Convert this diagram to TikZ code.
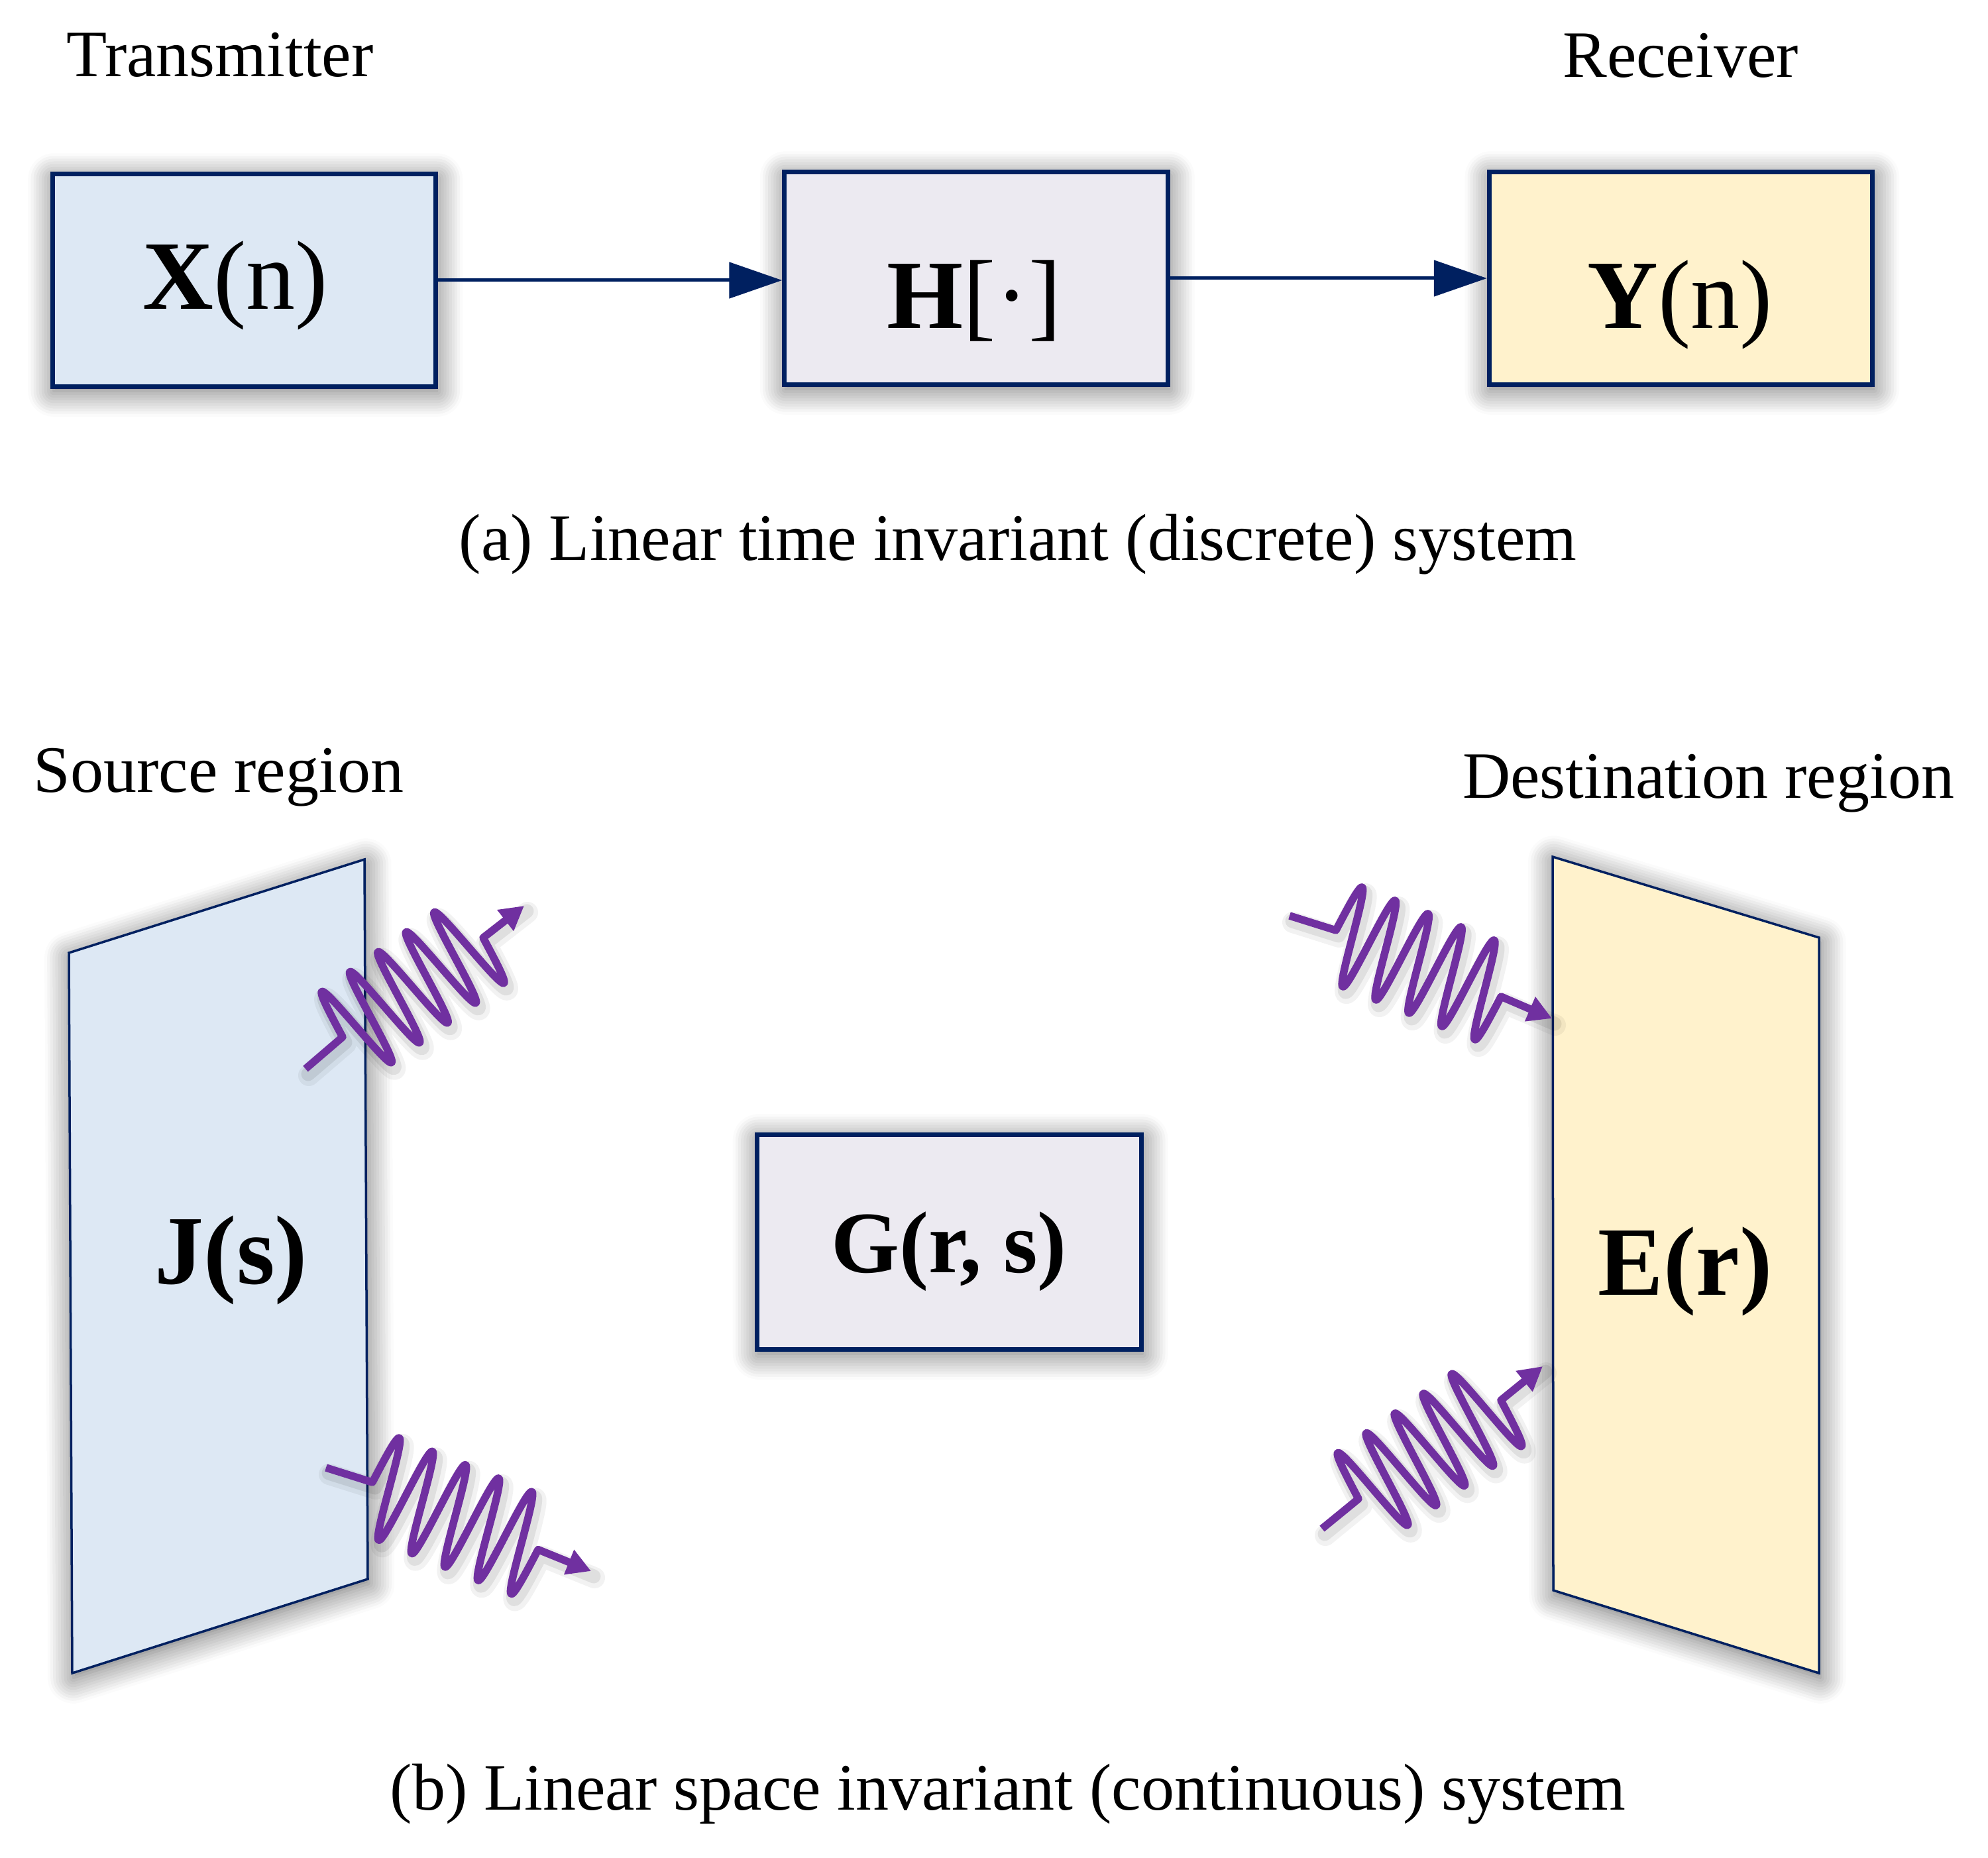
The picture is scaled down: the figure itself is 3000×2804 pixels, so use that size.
\documentclass[tikz,border=0pt]{standalone}
\usepackage{fontspec}
\setmainfont{Liberation Serif}
\usetikzlibrary{arrows.meta,shadows.blur}
\definecolor{navy}{HTML}{002060}
\definecolor{fillblue}{HTML}{DDE8F4}
\definecolor{fillgray}{HTML}{ECEAF1}
\definecolor{fillgold}{HTML}{FFF2CC}
\definecolor{wavepurple}{HTML}{7030A0}
\newcommand\lbfont{\fontsize{28.45pt}{34pt}\selectfont}
\newcommand\boxfont{\fontsize{42.1pt}{50pt}\selectfont}
\newcommand\midfont{\fontsize{37.6pt}{45pt}\selectfont}
\tikzset{
  softshadow/.style={blur shadow={shadow xshift=0.5pt, shadow yshift=-2pt, shadow blur radius=11pt, shadow blur steps=10, shadow opacity=60}},
  blockbox/.style={draw=navy, line width=0.07cm, inner sep=0pt, minimum width=5.78cm, minimum height=3.2cm, softshadow},
  panelstyle/.style={draw=navy, line width=0.035cm, line join=miter, softshadow},
  flow/.style={draw=navy, line width=0.05cm, -{Triangle[length=0.8cm,width=0.54cm]}},
  caption/.style={anchor=base, inner sep=0pt, font=\lbfont},
  boxlabel/.style={anchor=base, inner sep=0pt, font=\boxfont},
  wavestyle/.style={draw=wavepurple, line width=0.115cm, line join=round, -{Triangle[length=0.36cm,width=0.38cm]}},
  waveshade/.style={draw=black, line join=round, line cap=round}
}
\begin{document}
\begin{tikzpicture}[x=0.01cm, y=-0.01cm]
\useasboundingbox (0,0) rectangle (3000,2804);

% ---------- (a) discrete system ----------
\node[caption] (tx) at (332,116) {Transmitter};
\node[caption] (rx) at (2536,117) {Receiver};

\node[blockbox, fill=fillblue] (boxX) at (368.5,423) {};
\node[blockbox, fill=fillgray] (boxH) at (1473,420) {};
\node[blockbox, fill=fillgold] (boxY) at (2536.5,420) {};

\node[boxlabel] (lblX) at (355,467) {\textbf{X}(n)};
\node[boxlabel] (lblH) at (1470,496) {\textbf{H}[·]};
\node[boxlabel] (lblY) at (2535,496) {\textbf{Y}(n)};

\draw[flow] (boxX.east) -- (boxX.east -| boxH.west);
\draw[flow] (boxH.east) -- (boxY.west);

\node[caption] (capA) at (1536,846) {(a) Linear time invariant (discrete) system};

% ---------- (b) continuous system ----------
\node[caption] (src) at (330,1195) {Source region};
\node[caption] (dst) at (2578,1204) {Destination region};

\draw[panelstyle, fill=fillblue] (104,1438) -- (550,1297) -- (555,2383) -- (109,2525) -- cycle;
\draw[panelstyle, fill=fillgold] (2343,1293) -- (2745,1415) -- (2745,2525) -- (2344,2400) -- cycle;

\node[blockbox, fill=fillgray, minimum width=5.79cm, minimum height=3.23cm] (boxG) at (1432.5,1874.5) {};

\node[anchor=base, inner sep=0pt, font=\boxfont\bfseries] (lblJ) at (349,1937) {J(s)};
\node[anchor=base, inner sep=0pt, font=\midfont\bfseries] (lblG) at (1432,1920) {G(r, s)};
\node[anchor=base, inner sep=0pt, font=\boxfont\bfseries] (lblE) at (2543,1954) {E(r)};

% waves: start / origin / axis step per radian / amplitude / tip
\foreach \sx/\sy/\ox/\oy/\ax/\ay/\bx/\by/\tx/\ty in {
  461/1613/517/1565/6.75/-4.77/-42/-61/791/1367,
  492/2215/562/2237/7.96/3.23/28/-72/892/2371,
  1946/1382/2016/1404/7.93/3.18/27/-70/2342/1537,
  1995/2307/2050/2262/6.84/-4.74/-42/-62/2328/2062}
{
  \draw[waveshade, line width=0.32cm, opacity=0.05, shift={(5,10)}]
    (\sx,\sy) -- plot[domain=0:31.4159, samples=401, variable=\uu]
    ({\ox+\uu*(\ax)+(\bx)*sin(\uu r)},{\oy+\uu*(\ay)+(\by)*sin(\uu r)}) -- (\tx,\ty);
  \draw[waveshade, line width=0.21cm, opacity=0.08, shift={(4,8)}]
    (\sx,\sy) -- plot[domain=0:31.4159, samples=401, variable=\uu]
    ({\ox+\uu*(\ax)+(\bx)*sin(\uu r)},{\oy+\uu*(\ay)+(\by)*sin(\uu r)}) -- (\tx,\ty);
  \draw[wavestyle]
    (\sx,\sy) -- plot[domain=0:31.4159, samples=401, variable=\uu]
    ({\ox+\uu*(\ax)+(\bx)*sin(\uu r)},{\oy+\uu*(\ay)+(\by)*sin(\uu r)}) -- (\tx,\ty);
}

\node[caption] (capB) at (1521,2731) {(b) Linear space invariant (continuous) system};
\end{tikzpicture}
\end{document}
